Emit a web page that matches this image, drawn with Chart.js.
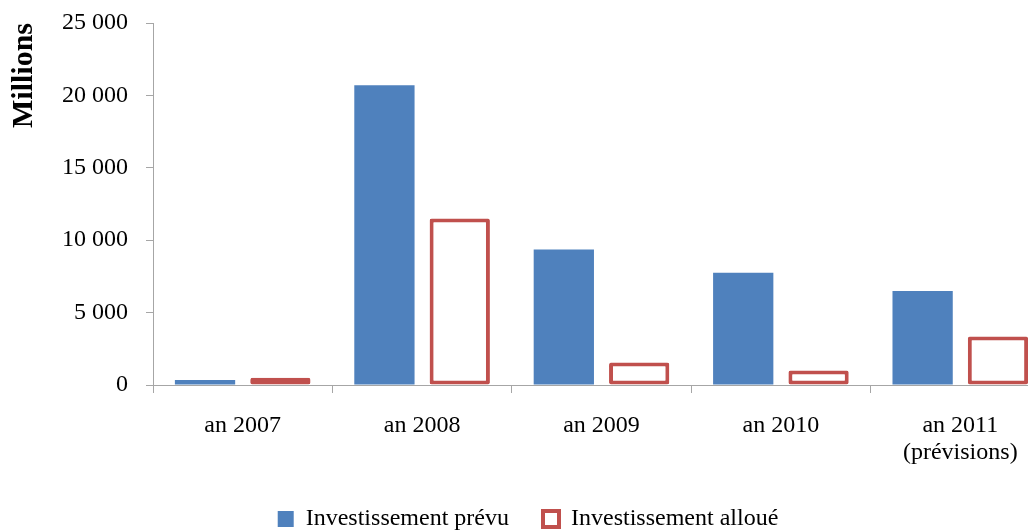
<!DOCTYPE html>
<html>
<head>
<meta charset="utf-8">
<script src="https://cdn.jsdelivr.net/npm/chart.js@4/dist/chart.umd.min.js"></script>
<style>
  html, body { margin: 0; padding: 0; background: #fff; overflow: hidden; width: 1028px; height: 531px; }
  #wrap { position: absolute; left: 0; top: 0; width: 1052px; height: 531px; }
</style>
</head>
<body>
<div id="wrap"><canvas id="c" width="1052" height="531"></canvas></div>
<script>
const categories = ["an 2007", "an 2008", "an 2009", "an 2010", ["an 2011", "(prévisions)"]];
const seriesNames = ["Investissement prévu", "Investissement alloué"];
const investPrevu = [350, 20700, 9350, 7750, 6500];
const investAlloue = [500, 11500, 1550, 1000, 3350];
const yTicks = [0, 5000, 10000, 15000, 20000, 25000];
const yTitle = "Millions";

function fmt(v) {
  return String(v).replace(/\B(?=(\d{3})+(?!\d))/g, " ");
}

const serif = "'Liberation Serif', 'Times New Roman', serif";
const axisGray = "#a6a6a6";

new Chart(document.getElementById("c"), {
  type: "bar",
  data: {
    labels: categories,
    datasets: [
      {
        label: seriesNames[0],
        data: investPrevu,
        backgroundColor: "#4F81BD",
        borderWidth: 0,
        barPercentage: 0.8,
        categoryPercentage: 0.84
      },
      {
        label: seriesNames[1],
        data: investAlloue,
        backgroundColor: "#ffffff",
        borderColor: "#C0504D",
        borderWidth: 4,
        borderSkipped: false,
        borderRadius: 2,
        barPercentage: 0.8,
        categoryPercentage: 0.84
      }
    ]
  },
  options: {
    responsive: false,
    devicePixelRatio: 1,
    animation: false,
    layout: { padding: { left: 6, top: 23, right: 2, bottom: -10 } },
    plugins: {
      legend: {
        position: "bottom",
        labels: {
          font: { family: serif, size: 24 },
          color: "#000",
          boxWidth: 16,
          boxHeight: 16,
          padding: 34
        }
      },
      tooltip: { enabled: false }
    },
    scales: {
      x: {
        afterFit: (s) => { s.height = 88; },
        grid: { drawOnChartArea: false, drawTicks: true, tickLength: 8, color: axisGray, offset: true },
        border: { color: axisGray },
        ticks: {
          font: { family: serif, size: 24, lineHeight: 1.1 },
          color: "#000",
          padding: 20,
          maxRotation: 0,
          autoSkip: false
        }
      },
      y: {
        min: 0,
        max: 25000,
        afterBuildTicks: (axis) => { axis.ticks = yTicks.map(v => ({ value: v })); },
        afterFit: (s) => { s.paddingTop = 14; s.paddingBottom = 14; },
        grid: { drawOnChartArea: false, drawTicks: true, tickLength: 7, color: axisGray },
        border: { color: axisGray },
        ticks: {
          font: { family: serif, size: 24 },
          color: "#000",
          padding: 18,
          callback: (v) => fmt(v)
        },
        title: {
          display: true,
          text: yTitle,
          align: "end",
          color: "#000",
          font: { family: serif, size: 30, weight: "bold" },
          padding: { top: 0, bottom: 2 }
        }
      }
    }
  }
});
</script>
</body>
</html>
